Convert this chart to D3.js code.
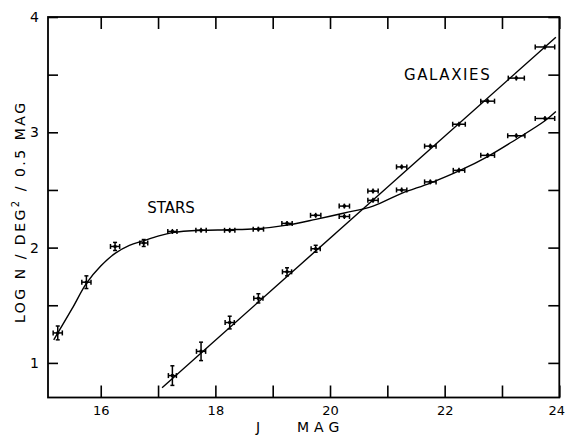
<!DOCTYPE html>
<html>
<head>
<meta charset="utf-8">
<script src="https://cdn.jsdelivr.net/npm/d3@7"></script>
<style>
  html, body { margin: 0; padding: 0; background: #fff; }
  svg { display: block; font-family: "DejaVu Sans", sans-serif; }
</style>
</head>
<body>
<svg id="chart" width="566" height="436"></svg>
<script>
// ---- data ----
const starMag   = [15.25, 15.75, 16.25, 16.75, 17.25, 17.75, 18.25, 18.75, 19.25, 19.75, 20.25, 20.75, 21.25, 21.75, 22.25, 22.75, 23.25, 23.75];
const starLogN  = [1.26, 1.70, 2.01, 2.04, 2.14, 2.15, 2.15, 2.16, 2.21, 2.28, 2.27, 2.41, 2.50, 2.57, 2.67, 2.80, 2.97, 3.12];
const starXErr  = [0.08, 0.08, 0.08, 0.07, 0.08, 0.09, 0.09, 0.09, 0.09, 0.09, 0.09, 0.09, 0.09, 0.10, 0.10, 0.12, 0.15, 0.17];
const starYErr  = [0.06, 0.055, 0.035, 0.03, 0.015, 0.012, 0.012, 0.012, 0.012, 0.012, 0.012, 0.012, 0.01, 0.01, 0.01, 0.01, 0.01, 0.01];

const galMag    = [17.25, 17.75, 18.25, 18.75, 19.25, 19.75, 20.25, 20.75, 21.25, 21.75, 22.25, 22.75, 23.25, 23.75];
const galLogN   = [0.89, 1.10, 1.35, 1.56, 1.79, 1.99, 2.36, 2.49, 2.70, 2.88, 3.07, 3.27, 3.47, 3.74];
const galXErr   = [0.07, 0.08, 0.08, 0.08, 0.08, 0.08, 0.09, 0.09, 0.09, 0.10, 0.11, 0.12, 0.14, 0.17];
const galYErr   = [0.085, 0.08, 0.055, 0.04, 0.035, 0.03, 0.012, 0.012, 0.01, 0.01, 0.01, 0.01, 0.01, 0.01];

// fitted curves
const starCurveMag  = [15.18, 15.5, 15.75, 16.0, 16.25, 16.5, 16.75, 17.0, 17.25, 17.75, 18.25, 18.75, 19.25, 19.75, 20.25, 20.75, 21.25, 21.75, 22.25, 22.75, 23.25, 23.75, 23.94];
const starCurveLogN = [1.20, 1.47, 1.69, 1.84, 1.95, 2.02, 2.06, 2.10, 2.13, 2.15, 2.155, 2.165, 2.195, 2.245, 2.30, 2.36, 2.47, 2.56, 2.665, 2.79, 2.94, 3.10, 3.18];
const galLineMag  = [17.07, 23.94];
const galLineLogN = [0.785, 3.824];

// axes
const xTicks = [16, 17, 18, 19, 20, 21, 22, 23, 24];
const xTickLabels = ["16", "", "18", "", "20", "", "22", "", "24"];
const yTicks = [1, 1.5, 2, 2.5, 3, 3.5, 4];
const yTickLabels = ["1", "", "2", "", "3", "", "4"];
const xTitleJ = "J";
const xTitleMag = "MAG";
const yTitle = ["LOG N / DEG", "2", " / 0.5 MAG"];
const labels = [{text: "STARS", x: 16.81, y: 2.303}, {text: "GALAXIES", x: 21.29, y: 3.454}];

// ---- layout ----
const L = 48, R = 559.3, T = 17, B = 397.5;
const x = d3.scaleLinear().domain([15.08, 24]).range([L, R]);
const y = d3.scaleLinear().domain([0.7, 4]).range([B, T]);

const svg = d3.select("#chart");

// axes with inward ticks
const fmtX = d => xTickLabels[xTicks.indexOf(d)];
const fmtY = d => yTickLabels[yTicks.indexOf(d)];

const gB = svg.append("g").attr("transform", `translate(0,${B})`)
  .call(d3.axisBottom(x).tickValues(xTicks).tickFormat(fmtX).tickSizeInner(-12).tickSizeOuter(0).tickPadding(8));
const gT = svg.append("g").attr("transform", `translate(0,${T})`)
  .call(d3.axisTop(x).tickValues(xTicks).tickFormat("").tickSizeInner(-12).tickSizeOuter(0));
const gL = svg.append("g").attr("transform", `translate(${L},0)`)
  .call(d3.axisLeft(y).tickValues(yTicks).tickFormat(fmtY).tickSizeInner(-10).tickSizeOuter(0).tickPadding(9));
const gR = svg.append("g").attr("transform", `translate(${R},0)`)
  .call(d3.axisRight(y).tickValues(yTicks).tickFormat("").tickSizeInner(-11).tickSizeOuter(0));

[gB, gT, gL, gR].forEach(g => {
  g.select(".domain").remove();
  g.selectAll(".tick line").attr("stroke", "#000").attr("stroke-width", 1.6);
  g.selectAll(".tick text").attr("fill", "#000").style("font-family", "'DejaVu Sans', sans-serif");
});
gB.selectAll(".tick text").style("font-size", "13px");
gB.selectAll(".tick").filter(d => d === 24).select("text").attr("dx", -3);
gL.selectAll(".tick text").style("font-size", "14px");

// frame
svg.append("rect").attr("x", L).attr("y", T).attr("width", R - L).attr("height", B - T)
  .attr("fill", "none").attr("stroke", "#000").attr("stroke-width", 1.8);

// curves
svg.append("path")
  .datum(starCurveMag.map((m, i) => [m, starCurveLogN[i]]))
  .attr("d", d3.line().x(d => x(d[0])).y(d => y(d[1])).curve(d3.curveCatmullRom.alpha(0.5)))
  .attr("fill", "none").attr("stroke", "#000").attr("stroke-width", 1.4);
svg.append("path")
  .datum(galLineMag.map((m, i) => [m, galLineLogN[i]]))
  .attr("d", d3.line().x(d => x(d[0])).y(d => y(d[1])))
  .attr("fill", "none").attr("stroke", "#000").attr("stroke-width", 1.4);

// error bars
function drawPoints(mags, vals, xe, ye) {
  const g = svg.append("g").attr("stroke", "#000").attr("stroke-width", 1.5);
  mags.forEach((m, i) => {
    const cx = x(m), cy = y(vals[i]);
    const x0 = x(m - xe[i]), x1 = x(m + xe[i]);
    const yLow = y(vals[i] - ye[i]), yHigh = y(vals[i] + ye[i]);
    g.append("line").attr("x1", x0).attr("x2", x1).attr("y1", cy).attr("y2", cy);
    g.append("line").attr("x1", x0).attr("x2", x0).attr("y1", cy - 2.5).attr("y2", cy + 2.5);
    g.append("line").attr("x1", x1).attr("x2", x1).attr("y1", cy - 2.5).attr("y2", cy + 2.5);
    g.append("line").attr("x1", cx).attr("x2", cx)
      .attr("y1", Math.min(yHigh, cy - 2.5)).attr("y2", Math.max(yLow, cy + 2.5));
    if (ye[i] > 0.02) {
      g.append("line").attr("x1", cx - 2).attr("x2", cx + 2).attr("y1", yLow).attr("y2", yLow);
      g.append("line").attr("x1", cx - 2).attr("x2", cx + 2).attr("y1", yHigh).attr("y2", yHigh);
    }
    g.append("circle").attr("cx", cx).attr("cy", cy).attr("r", 1.8).attr("fill", "#000").attr("stroke", "none");
  });
}
drawPoints(starMag, starLogN, starXErr, starYErr);
drawPoints(galMag, galLogN, galXErr, galYErr);

// labels
svg.append("text").attr("x", x(labels[0].x)).attr("y", y(labels[0].y))
  .attr("font-size", 15).attr("fill", "#000").text(labels[0].text);
svg.append("text").attr("x", x(labels[1].x)).attr("y", y(labels[1].y))
  .attr("font-size", 15).attr("fill", "#000").attr("letter-spacing", 1.6).text(labels[1].text);

// axis titles
svg.append("text").attr("x", 258).attr("y", 432).attr("text-anchor", "middle")
  .attr("font-size", 14).attr("fill", "#000").text(xTitleJ);
svg.append("text").attr("x", 297).attr("y", 432)
  .attr("font-size", 14).attr("fill", "#000").attr("letter-spacing", 5).text(xTitleMag);

const yt = svg.append("text")
  .attr("transform", "translate(25,213) rotate(-90)")
  .attr("text-anchor", "middle").attr("font-size", 14).attr("fill", "#000")
  .attr("textLength", 220).attr("lengthAdjust", "spacing");
yt.append("tspan").text(yTitle[0]);
yt.append("tspan").attr("dy", -6).attr("font-size", 10).text(yTitle[1]);
yt.append("tspan").attr("dy", 6).text(yTitle[2]);
</script>
</body>
</html>
